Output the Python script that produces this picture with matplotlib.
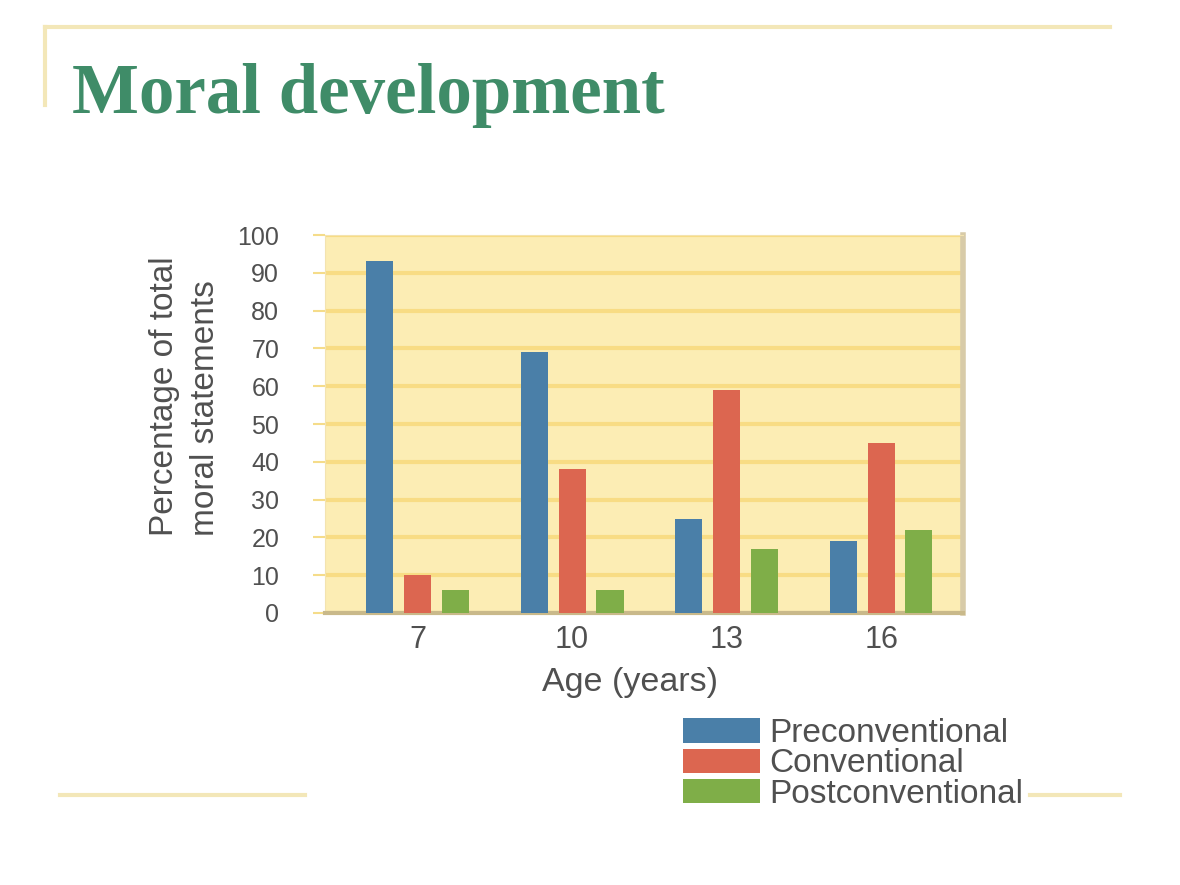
import numpy as np
import matplotlib
matplotlib.use("Agg")
import matplotlib.pyplot as plt
from matplotlib.patches import Patch
from matplotlib.lines import Line2D

# data
ages = ["7", "10", "13", "16"]
series = ["Preconventional", "Conventional", "Postconventional"]
preconventional = [93, 69, 25, 19]
conventional = [10, 38, 59, 45]
postconventional = [6, 6, 17, 22]
yticks = [0, 10, 20, 30, 40, 50, 60, 70, 80, 90, 100]

colors = ["#4A7FA8", "#DC6650", "#7FAE48"]
grey = "#505050"
sans = "Liberation Sans"

fig = plt.figure(figsize=(11.8, 8.85), dpi=100)

# slide decorations
line_col = "#F3E7B8"
fig.add_artist(Line2D([45 / 1180, 1110 / 1180], [1 - 27 / 885] * 2, color=line_col, lw=3))
fig.add_artist(Line2D([45 / 1180] * 2, [1 - 27 / 885, 1 - 105 / 885], color=line_col, lw=3))
fig.add_artist(Line2D([60 / 1180, 305 / 1180], [1 - 795 / 885] * 2, color=line_col, lw=3))
fig.add_artist(Line2D([1030 / 1180, 1120 / 1180], [1 - 795 / 885] * 2, color=line_col, lw=3))

fig.text(72 / 1180, 1 - 95 / 885, "Moral development", fontsize=51, fontweight="bold",
         family="Liberation Serif", color="#3F8C68", va="center", ha="left")

ax = fig.add_axes([325 / 1180, 1 - 613 / 885, (963 - 325) / 1180, (613 - 235) / 885])
ax.set_facecolor("#FCEDB4")

x = np.arange(len(ages))
w = 0.175
step = 0.245
for i, vals in enumerate([preconventional, conventional, postconventional]):
    ax.bar(x + (i - 1) * step, vals, width=w, color=colors[i], zorder=3)

ax.set_xlim(-0.6, 3.53)
ax.set_ylim(0, 100)
ax.set_yticks(yticks)
ax.set_yticklabels([str(t) for t in yticks], fontsize=18, color=grey, family=sans)
ax.set_xticks(x)
ax.set_xticklabels(ages, fontsize=22, color=grey, family=sans)
ax.tick_params(axis="y", length=9, color="#F5DC8A", width=1.5, pad=24)
ax.tick_params(axis="x", length=0, pad=9)
ax.yaxis.grid(True, color="#F8DC84", lw=3, zorder=1)
for s in ["top", "left"]:
    ax.spines[s].set_color("#F3E3B0")
ax.spines["bottom"].set_color("#C9B98A")
ax.spines["bottom"].set_linewidth(3)
ax.spines["right"].set_color("#D8CBA8")
ax.spines["right"].set_linewidth(4)

ax.set_xlabel("Age (years)", fontsize=24.5, color=grey, family=sans)
ax.xaxis.label.set_va("center")
ax.xaxis.set_label_coords(0.478, -0.185)
fig.text(185 / 1180, 1 - 536 / 885, "Percentage of total\nmoral statements", rotation=90,
         ha="center", va="bottom", multialignment="left", fontsize=24, color=grey,
         family=sans, linespacing=1.45)

handles = [Patch(facecolor=c, edgecolor="none") for c in colors]
fig.legend(handles, series, loc="upper left", bbox_to_anchor=(683 / 1180, 1 - 718 / 885),
           frameon=False, borderpad=0, borderaxespad=0, handlelength=2.31,
           handleheight=0.75, labelspacing=-0.02, handletextpad=0.27, labelcolor=grey,
           prop={"family": sans, "size": 24})

fig.savefig("out.png", dpi=100)
